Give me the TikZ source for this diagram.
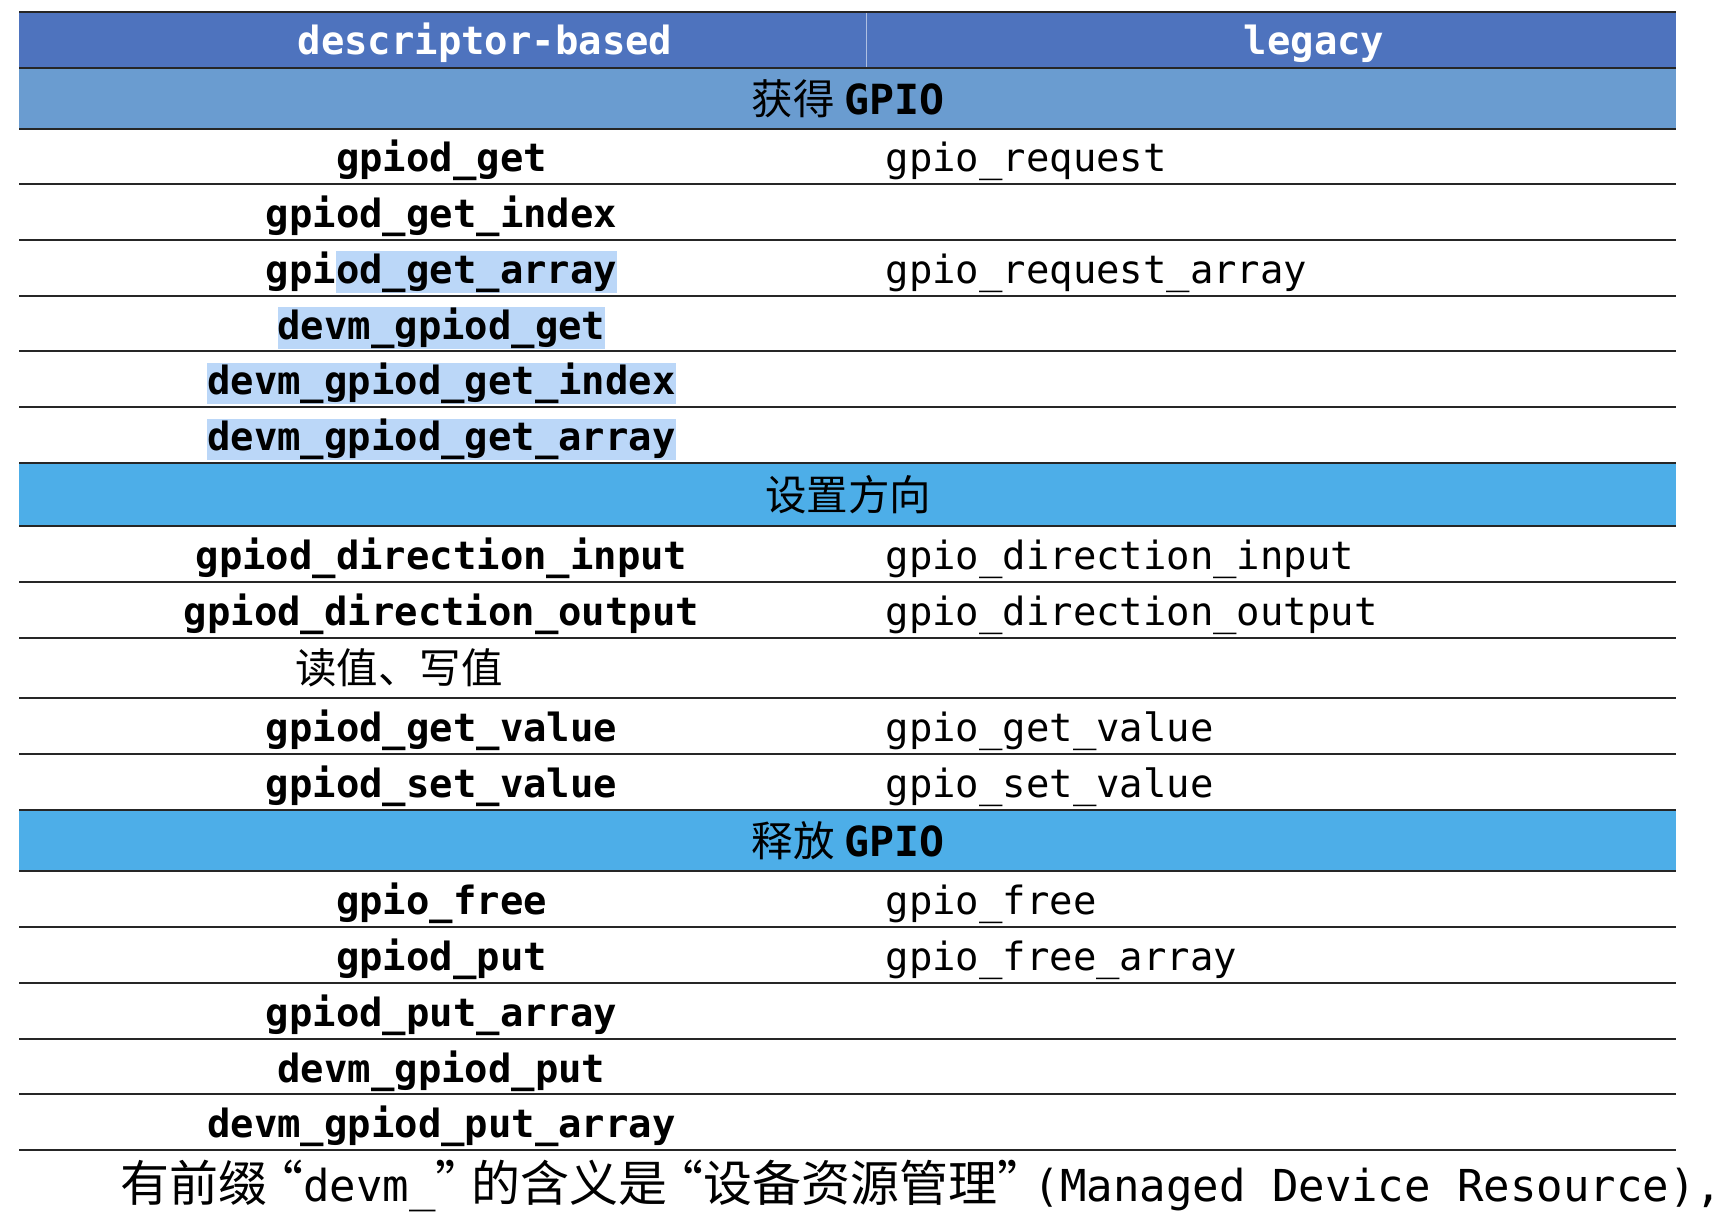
\documentclass[tikz,border=0pt]{standalone}
\usepackage{fontspec}
\usepackage{tikz}
\usetikzlibrary{positioning}
\setmonofont{DejaVu Sans Mono}
\newfontfamily\cjkfont{Noto Sans CJK SC}
\definecolor{headblue}{HTML}{4E73BE}
\definecolor{sectblue}{HTML}{6A9CD0}
\definecolor{skyblue}{HTML}{4DAEE8}
\definecolor{hlblue}{HTML}{BBD7F8}
\newcommand{\hlt}[1]{{\setlength{\fboxsep}{0pt}\colorbox{hlblue}{\rule[-9.5pt]{0pt}{41.5pt}#1}}}
\newcommand{\gpiotxt}{{\ttfamily\bfseries GPIO}}

\begin{document}
\begin{tikzpicture}[
  x=1pt, y=-1pt,
  cell/.style={inner sep=0pt, anchor=base},
  fnbold/.style={cell, font=\fontsize{38.9}{40}\selectfont\ttfamily\bfseries},
  fnplain/.style={cell, anchor=base west, font=\fontsize{38.9}{40}\selectfont\ttfamily},
  headtxt/.style={fnbold, text=white},
  sect/.style={cell, font=\fontsize{41.5}{42}\selectfont\cjkfont},
  note/.style={cell, anchor=base west, font=\fontsize{49}{50}\selectfont\cjkfont},
  hrule/.style={line width=1.6pt, draw=black!85}
]
\useasboundingbox (0,0) rectangle (1712,1214);

% Bands
\fill[headblue] (19,12) rectangle (1676,68);    % column heads
\fill[sectblue] (19,68) rectangle (1676,129);   % first section
\fill[skyblue] (19,463) rectangle (1676,526);   % second section
\fill[skyblue] (19,810) rectangle (1676,871);   % third section
\draw[white!55!headblue, line width=0.8pt] (866,12) -- (866,68); % head divider

% Rules
\foreach \y in {12,68,129,184,240,296,351,407,463,526,582,638,698,754,810,871,927,983,1039,1094,1150}
  \draw[hrule] (19,\y) -- (1676,\y);

% Heads and sections
\node[headtxt] (hdesc) at (485,55) {descriptor-based};
\node[headtxt] (hleg) at (1314,55) {legacy};
\node[sect] (sget) at (848,114.7) {获得 \gpiotxt};
\node[sect] (sdir) at (848,510.7) {设置方向};
\node[sect] (sfree) at (848,856) {释放 \gpiotxt};

% Left column
\node[fnbold] (l1) at (441.5,172) {gpiod\_get};
\node[fnbold] (l2) at (441.5,227.5) {gpiod\_get\_index};
\node[fnbold] (l3) at (441.5,283.5) {gpi\hlt{od\_get\_array}};
\node[fnbold] (l4) at (441.5,339) {\hlt{devm\_gpiod\_get}};
\node[fnbold] (l5) at (441.5,394.5) {\hlt{devm\_gpiod\_get\_index}};
\node[fnbold] (l6) at (441.5,450.5) {\hlt{devm\_gpiod\_get\_array}};
\node[fnbold] (l7) at (441.5,569.5) {gpiod\_direction\_input};
\node[fnbold] (l8) at (441.5,625.5) {gpiod\_direction\_output};
\node[sect, anchor=base west] (l9) at (295,683.7) {读值、写值};
\node[fnbold] (l10) at (441.5,741.5) {gpiod\_get\_value};
\node[fnbold] (l11) at (441.5,797.5) {gpiod\_set\_value};
\node[fnbold] (l12) at (441.5,914.5) {gpio\_free};
\node[fnbold] (l13) at (441.5,970.5) {gpiod\_put};
\node[fnbold] (l14) at (441.5,1026.5) {gpiod\_put\_array};
\node[fnbold] (l15) at (441.5,1082) {devm\_gpiod\_put};
\node[fnbold] (l16) at (441.5,1137.5) {devm\_gpiod\_put\_array};

% Right column
\node[fnplain] (r1) at (885.5,172) {gpio\_request};
\node[fnplain] (r3) at (885.5,283.5) {gpio\_request\_array};
\node[fnplain] (r7) at (885.5,569.5) {gpio\_direction\_input};
\node[fnplain] (r8) at (885.5,625.5) {gpio\_direction\_output};
\node[fnplain] (r10) at (885.5,741.5) {gpio\_get\_value};
\node[fnplain] (r11) at (885.5,797.5) {gpio\_set\_value};
\node[fnplain] (r12) at (885.5,914.5) {gpio\_free};
\node[fnplain] (r13) at (885.5,970.5) {gpio\_free\_array};

% Note under the table
\node[note] (devm) at (120,1201) {有前缀\makebox[36pt][r]{“}{\fontsize{44}{46}\selectfont\ttfamily devm\_}\makebox[36pt][l]{”}的含义是\makebox[36pt][r]{“}设备资源管理\makebox[36pt][l]{”}{\fontsize{44}{46}\selectfont\ttfamily (Managed Device Resource),}};
\end{tikzpicture}
\end{document}
